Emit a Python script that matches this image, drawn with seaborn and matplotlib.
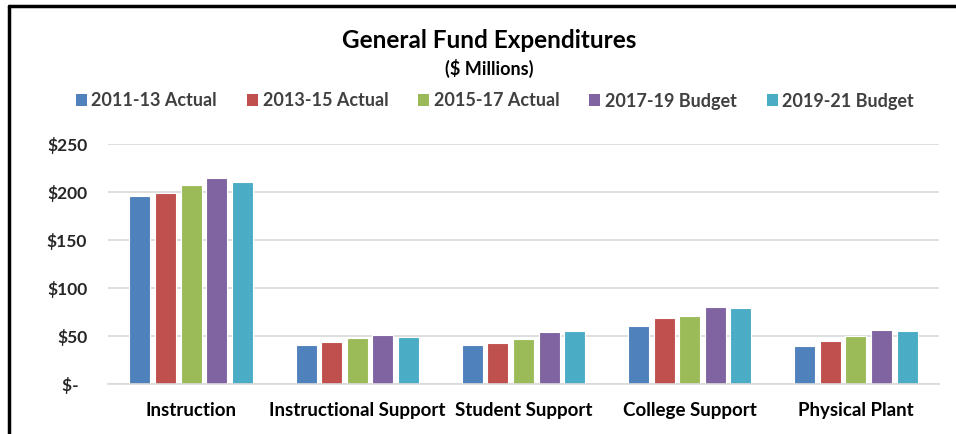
import matplotlib
matplotlib.use("Agg")
import matplotlib.pyplot as plt
import seaborn as sns
import pandas as pd
from matplotlib.lines import Line2D
from matplotlib.patches import Patch

categories = ["Instruction", "Instructional Support", "Student Support", "College Support", "Physical Plant"]
series = ["2011-13 Actual", "2013-15 Actual", "2015-17 Actual", "2017-19 Budget", "2019-21 Budget"]
v2011 = [195.8, 40.3, 40.3, 60.8, 39.2]
v2013 = [199.3, 43.4, 43.1, 68.8, 44.4]
v2015 = [207.3, 47.6, 46.9, 71.2, 50.3]
v2017 = [214.6, 51.0, 54.5, 79.9, 56.6]
v2019 = [210.8, 48.6, 54.9, 78.8, 55.6]
yticks = [0, 50, 100, 150, 200, 250]
ytick_labels = ["$-  ", "$50", "$100", "$150", "$200", "$250"]
colors = ["#4F81BD", "#C0504D", "#9BBB59", "#8064A2", "#4BACC6"]

rows = []
for s, vals in zip(series, [v2011, v2013, v2015, v2017, v2019]):
    for c, v in zip(categories, vals):
        rows.append({"Category": c, "Series": s, "Value": v})
df = pd.DataFrame(rows)

sns.set_theme(style="white")
plt.rcParams["font.family"] = ["Lato", "DejaVu Sans"]
plt.rcParams["font.weight"] = "bold"

fig = plt.figure(figsize=(9.56, 4.34), dpi=100)
ax = fig.add_axes([108/956, 1-384/434, (939-108)/956, (384-144)/434])

sns.barplot(data=df, x="Category", y="Value", hue="Series", palette=colors, saturation=1,
            width=0.77, gap=0.18, ax=ax, legend=False, edgecolor="white", linewidth=0.8)

ax.set_ylim(0, 250)
ax.set_xlim(-0.5, 4.5)
ax.set_yticks(yticks)
ax.set_yticklabels(ytick_labels, fontsize=12.5, fontweight="bold", color="#262626")
ax.tick_params(axis="x", labelsize=13.5, colors="#000000", length=0, pad=13)
ax.tick_params(axis="y", length=0, pad=15)
for lab in ax.get_xticklabels():
    lab.set_fontweight("bold")
ax.set_xlabel("")
ax.set_ylabel("")
ax.grid(axis="y", color="#D9D9D9", linewidth=1.2)
ax.set_axisbelow(True)
for sp in ["top", "right", "left"]:
    ax.spines[sp].set_visible(False)
ax.spines["bottom"].set_color("#D9D9D9")
ax.spines["bottom"].set_linewidth(1.2)

fig.text(489/956, 1-40/434, "General Fund Expenditures", ha="center", va="center",
         fontsize=17.5, fontweight="bold", color="#000000")
fig.text(489/956, 1-68/434, "($ Millions)", ha="center", va="center",
         fontsize=13, fontweight="bold", color="#000000")

handles = [Patch(facecolor=c, edgecolor="none") for c in colors]
fig.legend(handles, series, loc="center", bbox_to_anchor=(495/956, 1-101/434), ncol=5,
           frameon=False, prop={"weight": "bold", "size": 13}, labelcolor="#404040",
           handlelength=0.6, handleheight=0.6, handletextpad=0.25, columnspacing=1.67)

fig.add_artist(Line2D([9/956, 9/956], [0, 1-6/434], color="black", linewidth=2.5, transform=fig.transFigure))
fig.add_artist(Line2D([9/956, 1], [1-6/434, 1-6/434], color="black", linewidth=2.5, transform=fig.transFigure))

fig.savefig("out.png", dpi=100)
